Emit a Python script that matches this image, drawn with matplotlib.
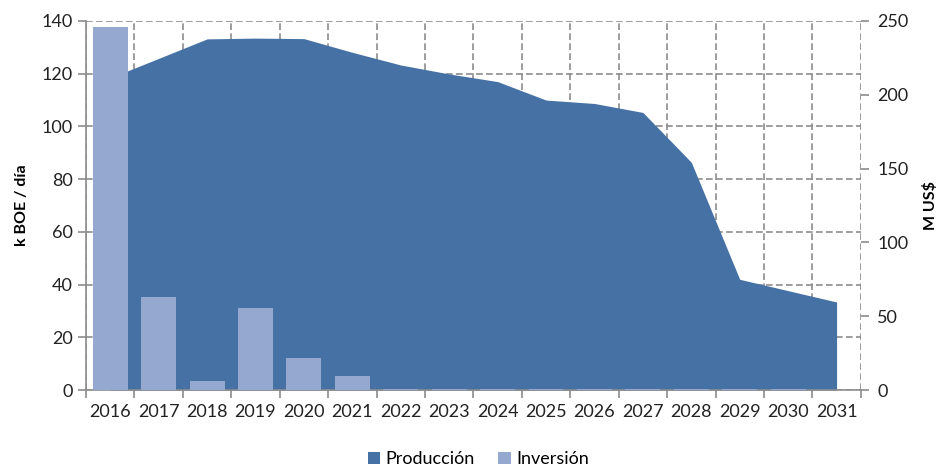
# Grafico de produccion (area) e inversion (barras) con doble eje

import numpy as np
import matplotlib
matplotlib.use('Agg')
import matplotlib.pyplot as plt
from matplotlib.patches import Patch

# Datos
anios = ['2016', '2017', '2018', '2019', '2020', '2021', '2022', '2023',
         '2024', '2025', '2026', '2027', '2028', '2029', '2030', '2031']
produccion = [118.4, 125.8, 133.2, 133.5, 133.3, 128.1, 123.3, 119.9,
              117.0, 110.0, 108.7, 105.3, 86.4, 42.0, 37.7, 33.4]  # k BOE / dia
inversion = [246, 62.8, 6.1, 55.6, 21.7, 9.5, 0.8, 0.8,
             0.8, 0.8, 0.8, 0.8, 0.8, 0.8, 0.8, 0]  # M US$

COLOR_AREA = '#4571A5'
COLOR_BAR = '#95A9D0'
COLOR_GRID = '#8C8C8C'
COLOR_AXIS = '#8C8C8C'

plt.rcParams['font.family'] = ['Lato', 'DejaVu Sans']


def main():
    fig = plt.figure(figsize=(9.38, 4.66), dpi=100)
    ax = fig.add_axes([0.0917, 0.163, 0.826, 0.792])
    x = np.arange(len(anios))

    # Area de produccion (eje izquierdo)
    ax.fill_between(x, produccion, 0, color=COLOR_AREA, linewidth=0, zorder=2)
    ax.set_xlim(-0.5, len(anios) - 0.5)
    ax.set_ylim(0, 140)
    ax.set_yticks(np.arange(0, 141, 20))
    ax.set_xticks(x)
    ax.set_xticklabels(anios)
    ax.set_xticks(np.arange(-0.5, len(anios), 1), minor=True)

    # Rejilla discontinua
    ax.set_axisbelow(True)
    ax.grid(axis='y', which='major', linestyle=(0, (4, 2)), color=COLOR_GRID, linewidth=1.2)
    ax.grid(axis='x', which='minor', linestyle=(0, (4, 2)), color=COLOR_GRID, linewidth=1.2)
    ax.grid(axis='x', which='major', visible=False)

    for s in ['top', 'right']:
        ax.spines[s].set_visible(False)
    for s in ['left', 'bottom']:
        ax.spines[s].set_color(COLOR_AXIS)
        ax.spines[s].set_linewidth(1.2)

    ax.tick_params(axis='x', which='major', length=0, labelsize=13, pad=10, colors='#222222')
    ax.tick_params(axis='x', which='minor', length=6, color=COLOR_AXIS, width=1.2)
    ax.tick_params(axis='y', length=6, color=COLOR_AXIS, width=1.2, labelsize=13,
                   labelcolor='#222222')
    ax.set_ylabel('k BOE / día', fontsize=11.5, fontweight='bold', labelpad=9)

    # Barras de inversion (eje derecho)
    ax2 = ax.twinx()
    ax2.bar(x, inversion, width=0.72, color=COLOR_BAR, linewidth=0, zorder=3)
    ax2.set_ylim(0, 250)
    ax2.set_yticks(np.arange(0, 251, 50))
    for s in ['top', 'left', 'bottom', 'right']:
        ax2.spines[s].set_visible(False)
    ax2.tick_params(axis='y', length=6, color=COLOR_AXIS, width=1.2, labelsize=13,
                    labelcolor='#222222', pad=6)
    ax2.set_ylabel('M US$', fontsize=11.5, fontweight='bold', rotation=90, labelpad=10)

    # Leyenda inferior
    handles = [Patch(facecolor=COLOR_AREA, label='Producción'),
               Patch(facecolor=COLOR_BAR, label='Inversión')]
    fig.legend(handles=handles, loc='lower center', bbox_to_anchor=(0.51, -0.038), ncol=2,
               frameon=False, fontsize=13, handlelength=0.7, handleheight=0.7,
               handletextpad=0.3, columnspacing=1.3)

    fig.savefig('out.png', dpi=100)
    plt.close(fig)


if __name__ == '__main__':
    main()
